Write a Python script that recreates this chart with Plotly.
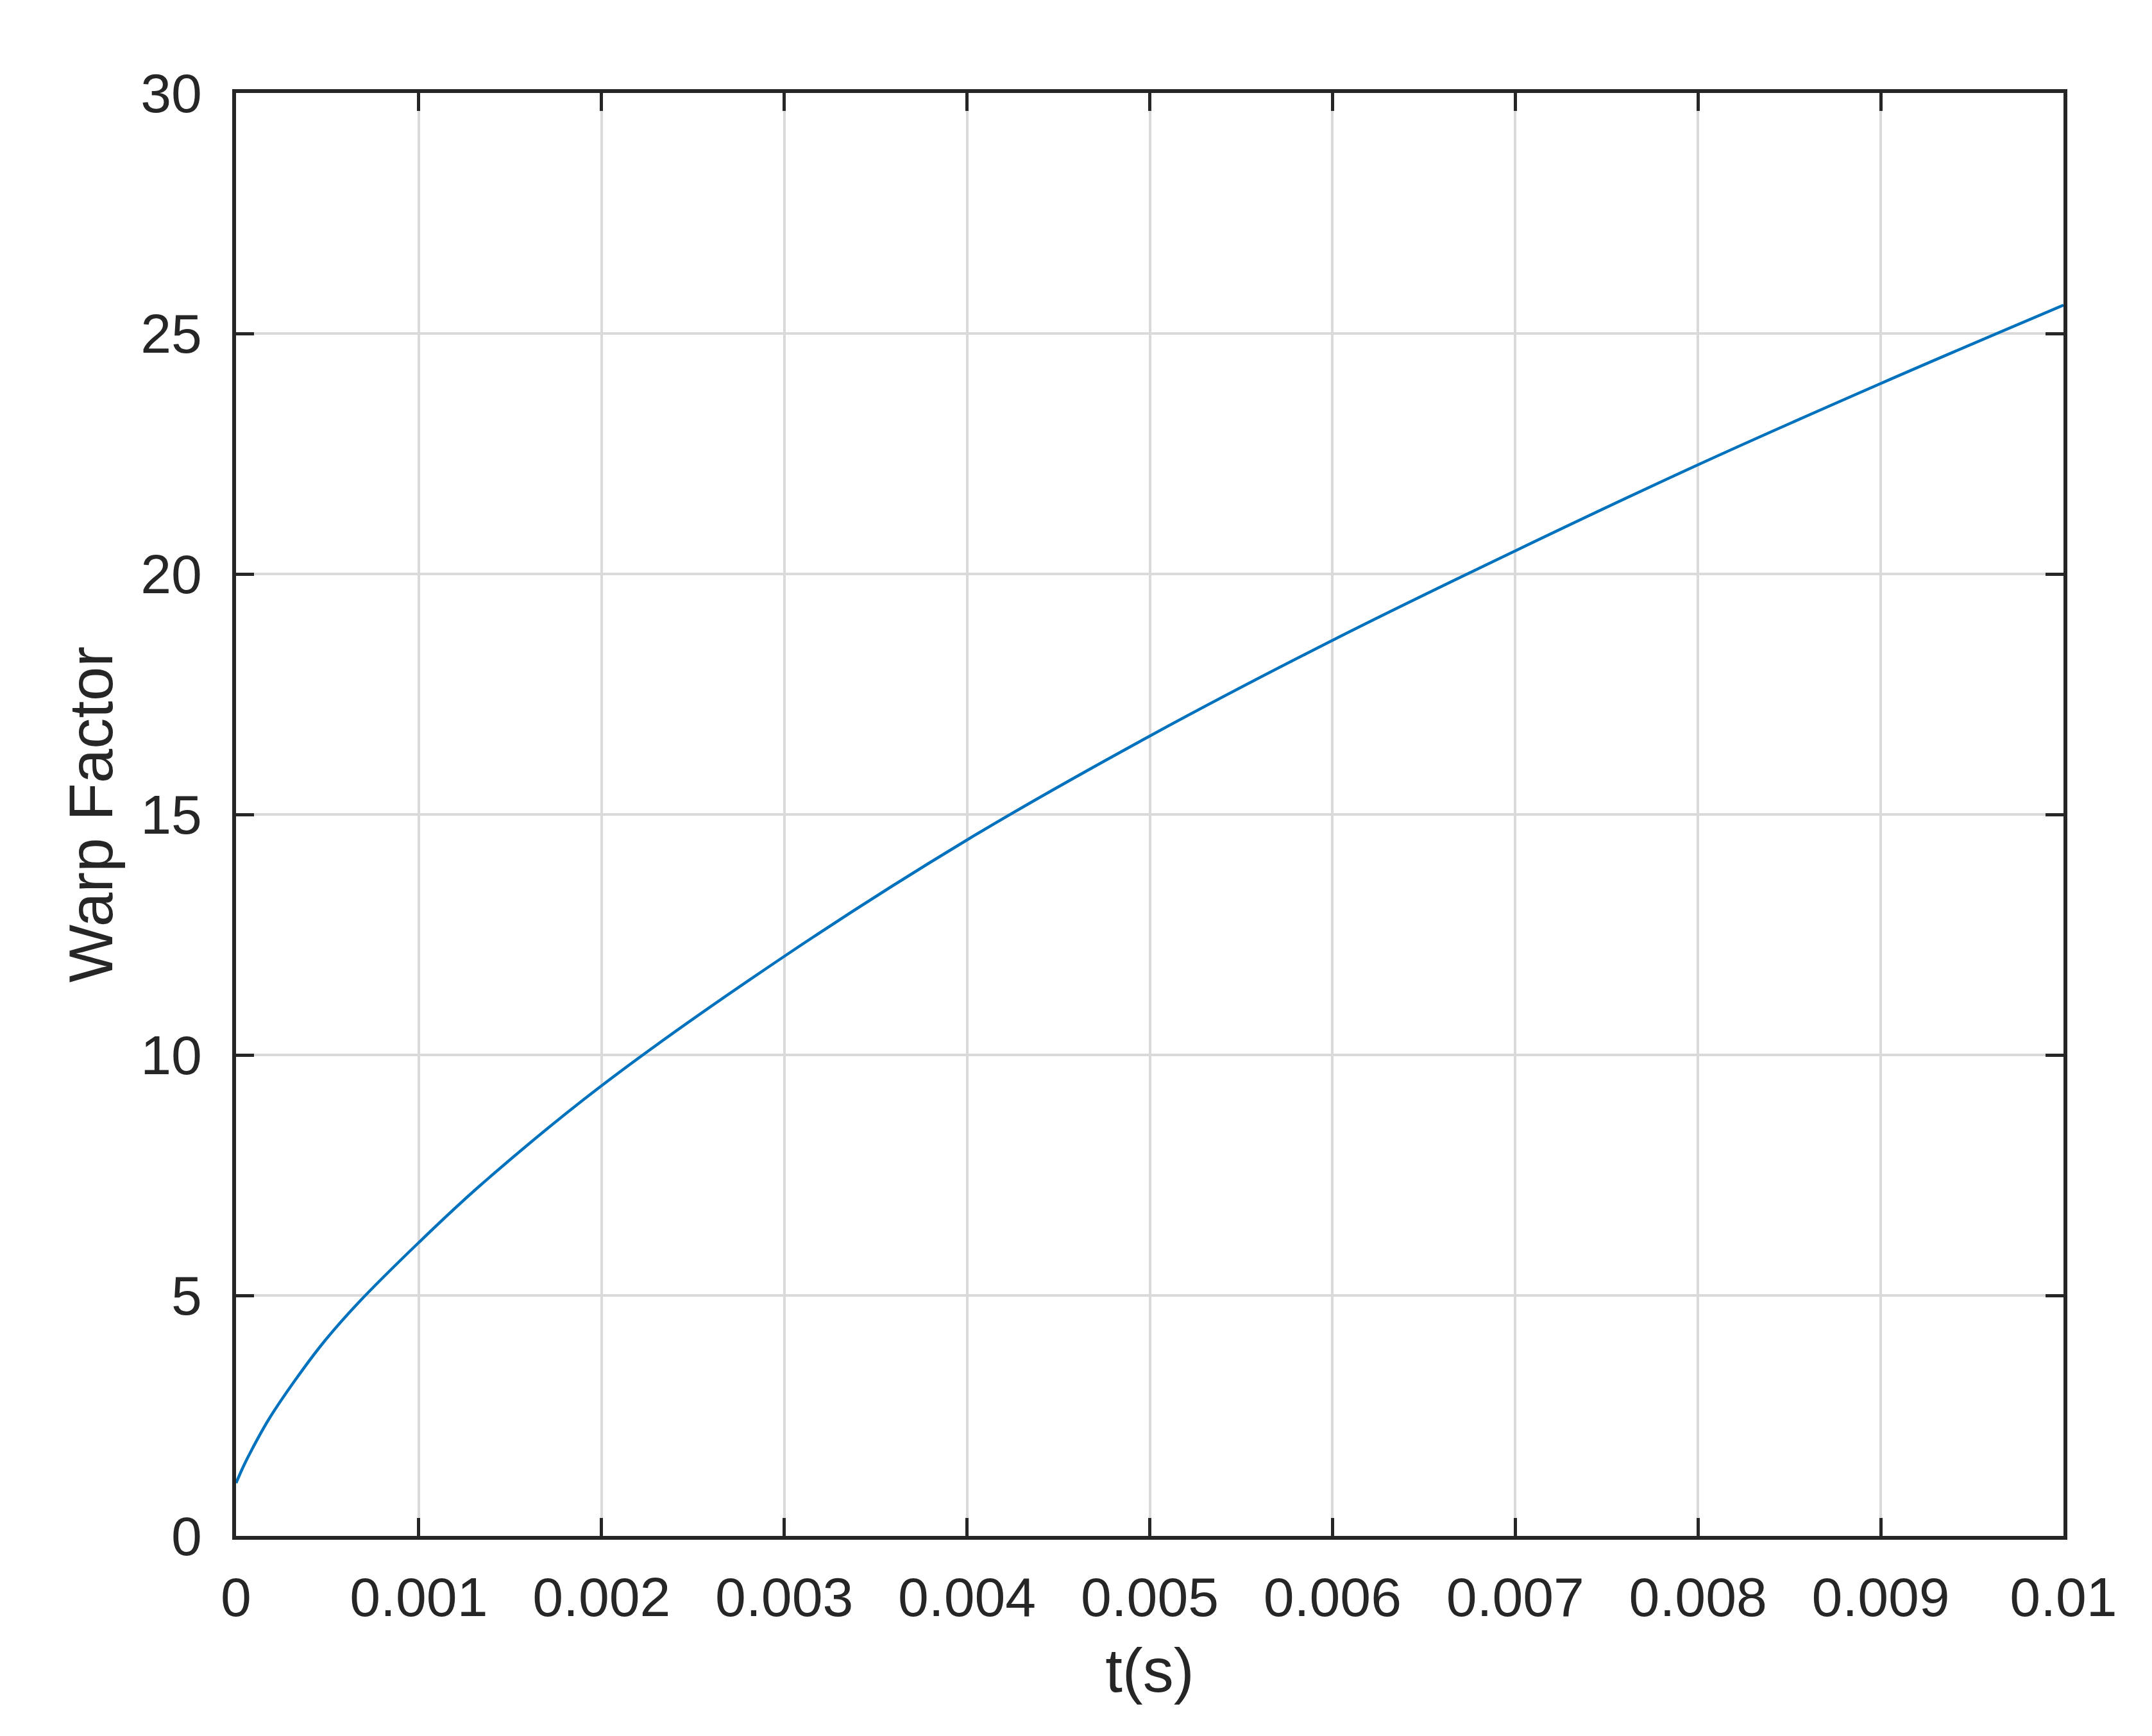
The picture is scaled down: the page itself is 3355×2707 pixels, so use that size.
import plotly.graph_objects as go

# values
t_s = [0, 0.000042, 0.00009, 0.00018, 0.00032, 0.00048, 0.00067, 0.001,
       0.00134, 0.002, 0.003, 0.004, 0.005, 0.006, 0.007,
       0.008, 0.009, 0.01]
warp = [1.1, 1.46, 1.82, 2.43, 3.22, 4.03, 4.85, 6.1,
        7.3, 9.36, 12.05, 14.47, 16.63, 18.62, 20.48,
        22.27, 23.96, 25.59]

x_ticks = [0, 0.001, 0.002, 0.003, 0.004, 0.005, 0.006, 0.007, 0.008, 0.009, 0.01]
x_labels = ["0", "0.001", "0.002", "0.003", "0.004", "0.005", "0.006",
            "0.007", "0.008", "0.009", "0.01"]
y_ticks = [0, 5, 10, 15, 20, 25, 30]

fig = go.Figure(go.Scatter(x=t_s, y=warp, mode="lines",
                           line=dict(color="#0072BD", width=4.5, shape="spline", smoothing=1),
                           showlegend=False))

axis_style = dict(showline=True, linecolor="#262626", linewidth=6, mirror="allticks",
                  ticks="inside", ticklen=28, tickwidth=5, tickcolor="#262626",
                  showgrid=True, gridcolor="#DADADA", gridwidth=3.5, zeroline=False,
                  tickfont=dict(size=86, color="#262626"))

fig.update_xaxes(range=[0, 0.01], tickvals=x_ticks, ticktext=x_labels,
                 ticklabelstandoff=16,
                 title=dict(text="t(s)", font=dict(size=96, color="#262626"), standoff=36),
                 **axis_style)
fig.update_yaxes(range=[0, 30], tickvals=y_ticks, ticklabelstandoff=30,
                 title=dict(text="Warp Factor", font=dict(size=96, color="#262626"), standoff=14),
                 **axis_style)

fig.update_layout(width=3355, height=2707,
                  margin=dict(l=360, r=146, t=137, b=320),
                  paper_bgcolor="white", plot_bgcolor="white",
                  font=dict(family="Liberation Sans, Arial, sans-serif", color="#262626"))

fig.write_html("out.html")
